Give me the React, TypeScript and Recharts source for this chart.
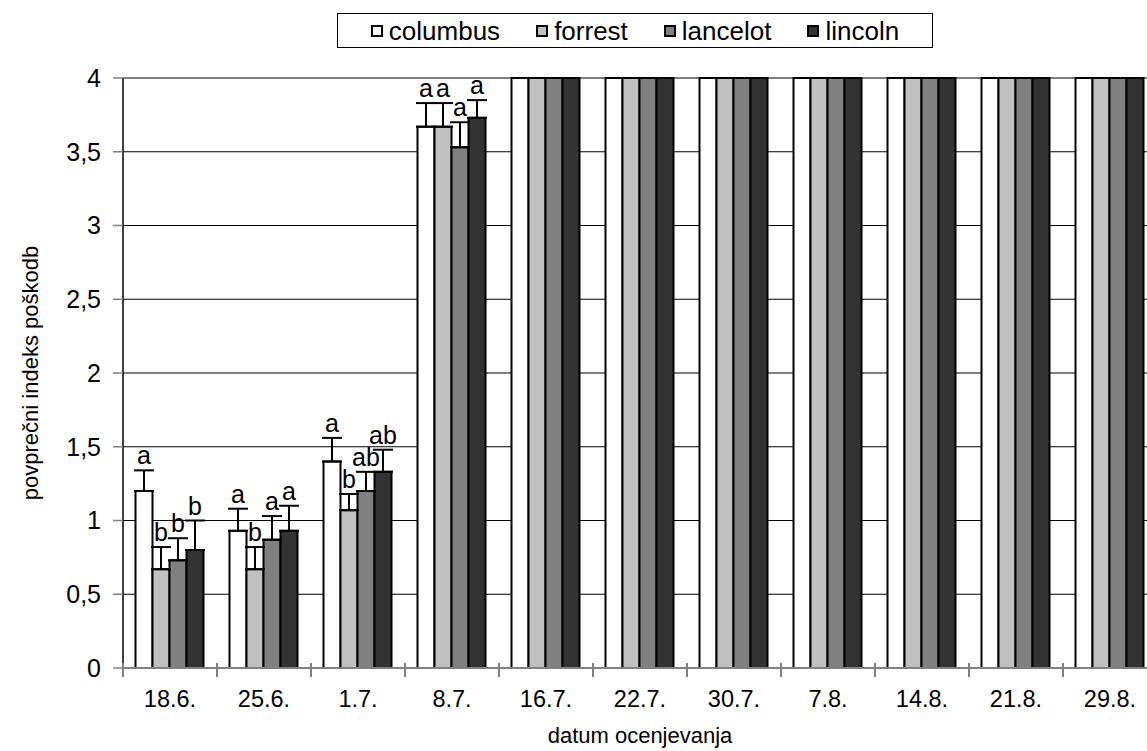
import { Bar, BarChart, CartesianGrid, ErrorBar, Label, LabelList, Legend, XAxis, YAxis } from "recharts"

const FONT = "'Liberation Sans', Arial, sans-serif"

const dates = ["18.6.", "25.6.", "1.7.", "8.7.", "16.7.", "22.7.", "30.7.", "7.8.", "14.8.", "21.8.", "29.8."]

// mean damage index per cultivar
const columbus = [1.2, 0.93, 1.4, 3.67, 4, 4, 4, 4, 4, 4, 4]
const forrest = [0.67, 0.67, 1.07, 3.67, 4, 4, 4, 4, 4, 4, 4]
const lancelot = [0.73, 0.87, 1.2, 3.53, 4, 4, 4, 4, 4, 4, 4]
const lincoln = [0.8, 0.93, 1.33, 3.73, 4, 4, 4, 4, 4, 4, 4]

// standard error (upper whisker only)
const columbusErr = [0.14, 0.15, 0.16, 0.16, null, null, null, null, null, null, null]
const forrestErr = [0.15, 0.15, 0.11, 0.16, null, null, null, null, null, null, null]
const lancelotErr = [0.15, 0.16, 0.13, 0.17, null, null, null, null, null, null, null]
const lincolnErr = [0.2, 0.17, 0.15, 0.12, null, null, null, null, null, null, null]

// significance letters
const columbusLetters = ["a", "a", "a", "a", "", "", "", "", "", "", ""]
const forrestLetters = ["b", "b", "b", "a", "", "", "", "", "", "", ""]
const lancelotLetters = ["b", "a", "ab", "a", "", "", "", "", "", "", ""]
const lincolnLetters = ["b", "a", "ab", "a", "", "", "", "", "", "", ""]

const yTicks = [0, 0.5, 1, 1.5, 2, 2.5, 3, 3.5, 4]

const series = [
  { key: "columbus", values: columbus, err: columbusErr, letters: columbusLetters, fill: "#ffffff" },
  { key: "forrest", values: forrest, err: forrestErr, letters: forrestLetters, fill: "#c0c0c0" },
  { key: "lancelot", values: lancelot, err: lancelotErr, letters: lancelotLetters, fill: "#808080" },
  { key: "lincoln", values: lincoln, err: lincolnErr, letters: lincolnLetters, fill: "#333333" },
]

const chartData = dates.map((date, i) => {
  const row: Record<string, unknown> = { date }
  series.forEach((s) => {
    const e = s.err[i]
    row[s.key] = s.values[i]
    row[s.key + "Err"] = e == null ? null : [0, e]
    row[s.key + "Letter"] = { text: s.letters[i], value: s.values[i], err: e ?? 0 }
  })
  return row
})

// letter sits just above the whisker cap; px-per-unit taken from the bar itself
const LetterLabel = (props: any) => {
  const info = props.value
  if (!info || !info.text) return null
  const vb = props.viewBox ?? props
  const perUnit = vb.height / info.value
  const capY = vb.y - info.err * perUnit
  return (
    <text x={vb.x + vb.width / 2} y={capY - 6} textAnchor="middle" fontSize={25} fontFamily={FONT} fill="#000">
      {info.text}
    </text>
  )
}

// category labels centred, tick marks on the band boundaries
const DateTick = (props: any) => {
  const { x, y, payload, index, visibleTicksCount, width } = props
  const half = width / visibleTicksCount / 2
  return (
    <g>
      <line x1={x - half} x2={x - half} y1={y - 5} y2={y + 9} stroke="#808080" strokeWidth={2} />
      {index === visibleTicksCount - 1 && (
        <line x1={x + half} x2={x + half} y1={y - 5} y2={y + 9} stroke="#808080" strokeWidth={2} />
      )}
      <text x={x} y={y + 22} dy="0.71em" textAnchor="middle" fontSize={23.5} fontFamily={FONT} fill="#000">
        {payload.value}
      </text>
    </g>
  )
}

const XTitle = (props: any) => {
  const vb = props.viewBox
  return (
    <text x={vb.x + vb.width / 2} y={vb.y + 75} textAnchor="middle" fontSize={22} fontFamily={FONT} fill="#000">
      datum ocenjevanja
    </text>
  )
}

const YTitle = (props: any) => {
  const vb = props.viewBox
  const cx = vb.x + 30
  const cy = vb.y + vb.height / 2
  return (
    <text
      x={cx}
      y={cy}
      transform={`rotate(-90, ${cx}, ${cy})`}
      textAnchor="middle"
      dominantBaseline="central"
      fontSize={22}
      fontFamily={FONT}
      fill="#000"
    >
      povprečni indeks poškodb
    </text>
  )
}

const LegendBox = () => (
  <div
    style={{
      boxSizing: "border-box",
      width: "100%",
      height: "100%",
      border: "1px solid #000",
      display: "flex",
      alignItems: "center",
      justifyContent: "center",
      gap: 36,
      fontFamily: FONT,
      fontSize: 26,
      lineHeight: 1,
      background: "#fff",
    }}
  >
    {series.map((s) => (
      <div key={s.key} style={{ display: "flex", alignItems: "center" }}>
        <span
          style={{
            boxSizing: "border-box",
            width: 12,
            height: 12,
            border: "2px solid #000",
            background: s.fill,
            marginRight: 6,
          }}
        />
        <span>{s.key}</span>
      </div>
    ))}
  </div>
)

const App = () => {
  return (
    <div
      style={{
        position: "absolute",
        left: 0,
        top: 0,
        width: 1147,
        height: 751,
        overflow: "hidden",
        background: "#fff",
        fontFamily: FONT,
      }}
    >
      <BarChart
        width={1160}
        height={751}
        data={chartData}
        margin={{ top: 78, right: 3, bottom: 0, left: 0 }}
        barCategoryGap={12.5}
        barGap={0}
      >
        <CartesianGrid vertical={false} stroke="#000" strokeWidth={1} />
        <XAxis
          dataKey="date"
          interval={0}
          height={83}
          tickLine={false}
          tickSize={0}
          tickMargin={0}
          axisLine={{ stroke: "#808080", strokeWidth: 2 }}
          tick={<DateTick />}
        >
          <Label content={<XTitle />} />
        </XAxis>
        <YAxis
          width={123}
          domain={[0, 4]}
          ticks={yTicks}
          interval={0}
          tickSize={10}
          tickMargin={12}
          fontSize={25}
          tickLine={{ stroke: "#808080", strokeWidth: 1.5 }}
          axisLine={{ stroke: "#000", strokeWidth: 1.5 }}
          tick={{ fill: "#000", fontSize: 25, fontFamily: FONT }}
          tickFormatter={(v: number) => String(v).replace(".", ",")}
        >
          <Label content={<YTitle />} />
        </YAxis>
        <Legend
          layout="horizontal"
          verticalAlign="middle"
          align="center"
          wrapperStyle={{ left: 337, top: 13, width: 596, height: 35 }}
          content={<LegendBox />}
        />
        {series.map((s) => (
          <Bar key={s.key} dataKey={s.key} name={s.key} fill={s.fill} stroke="#000" strokeWidth={2} isAnimationActive={false}>
            <ErrorBar dataKey={s.key + "Err"} direction="y" width={10} stroke="#000" strokeWidth={2} />
            <LabelList dataKey={s.key + "Letter"} content={<LetterLabel />} />
          </Bar>
        ))}
      </BarChart>
    </div>
  )
}

export default App
